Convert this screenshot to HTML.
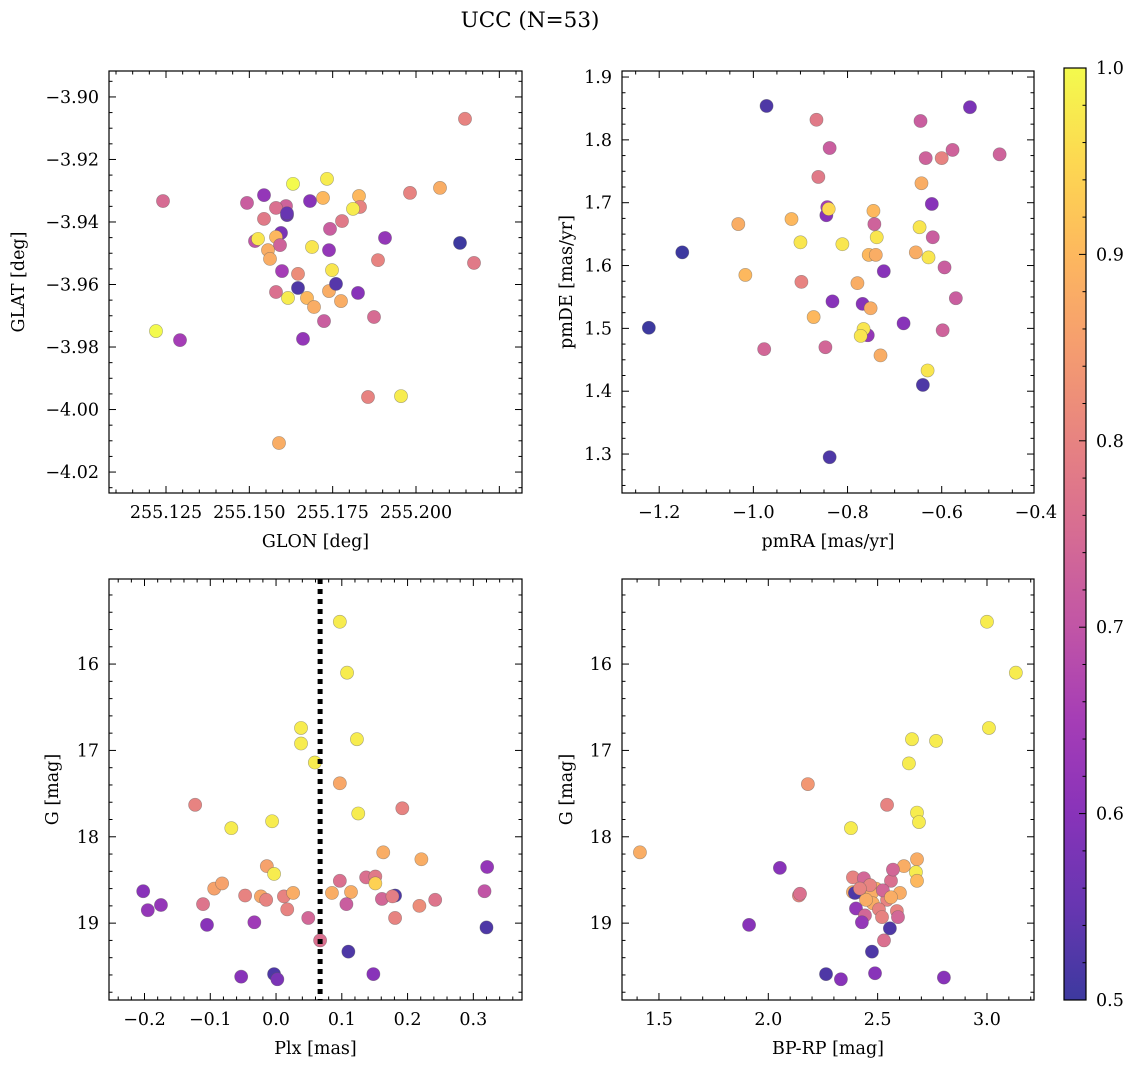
<!DOCTYPE html>
<html><head><meta charset="utf-8"><style>
html,body{margin:0;padding:0;background:#fff;}
svg{display:block;font-family:"DejaVu Serif","Liberation Serif",serif;}
</style></head><body>
<svg id="fig" width="1136" height="1068" viewBox="0 0 1136 1068" xmlns="http://www.w3.org/2000/svg">
<defs><linearGradient id="cbg" x1="0" y1="1" x2="0" y2="0"></linearGradient></defs>
<text x="530" y="27" font-size="21.5" text-anchor="middle">UCC (N=53)</text>
</svg>
<script>
// ---------- data ----------
const p1Glon=[255.2147,255.1241,255.2072,255.1982,255.1631,255.1733,255.1544,255.1493,255.1829,255.1832,255.1610,255.1613,255.1682,255.1721,255.1811,255.1544,255.1580,255.1778,255.1742,255.1907,255.2132,255.1595,255.1580,255.1517,255.1526,255.1592,255.1688,255.1739,255.1556,255.1562,255.1886,255.2174,255.1598,255.1748,255.1646,255.1646,255.1580,255.1739,255.1673,255.1616,255.1760,255.1775,255.1826,255.1694,255.1724,255.1661,255.1874,255.1220,255.1292,255.1856,255.1955,255.1589,255.1613];
const p1Glat=[-3.9070,-3.9333,-3.9291,-3.9307,-3.9278,-3.9262,-3.9314,-3.9339,-3.9317,-3.9352,-3.9349,-3.9378,-3.9333,-3.9323,-3.9358,-3.9390,-3.9355,-3.9397,-3.9422,-3.9451,-3.9467,-3.9435,-3.9448,-3.9461,-3.9454,-3.9474,-3.9480,-3.9490,-3.9490,-3.9518,-3.9522,-3.9531,-3.9557,-3.9554,-3.9566,-3.9611,-3.9624,-3.9621,-3.9643,-3.9643,-3.9598,-3.9653,-3.9627,-3.9672,-3.9717,-3.9774,-3.9704,-3.9749,-3.9778,-3.9960,-3.9957,-4.0107,-3.9372];
const p1Prob=[0.80,0.75,0.88,0.80,1.00,0.98,0.62,0.72,0.90,0.80,0.73,0.55,0.60,0.90,0.98,0.78,0.76,0.78,0.72,0.62,0.50,0.58,0.90,0.70,0.97,0.73,0.97,0.62,0.88,0.88,0.80,0.78,0.65,0.97,0.82,0.52,0.76,0.88,0.90,0.98,0.53,0.88,0.60,0.88,0.72,0.62,0.75,1.00,0.65,0.80,0.98,0.88,0.55];

const p2Pmra=[-0.972,-0.540,-0.866,-0.645,-0.577,-0.477,-0.838,-0.634,-0.600,-0.862,-0.643,-1.032,-0.919,-0.843,-0.845,-0.840,-0.745,-0.621,-0.743,-0.738,-0.900,-0.647,-0.619,-1.151,-0.811,-0.755,-0.655,-0.628,-0.740,-0.594,-1.017,-0.723,-0.898,-0.779,-0.832,-0.570,-0.768,-0.751,-1.222,-0.872,-0.757,-0.766,-0.772,-0.598,-0.977,-0.847,-0.730,-0.630,-0.640,-0.838,-0.681];
const p2Pmde=[1.854,1.852,1.832,1.830,1.784,1.777,1.787,1.771,1.771,1.741,1.731,1.666,1.674,1.693,1.680,1.690,1.687,1.698,1.666,1.645,1.637,1.661,1.645,1.621,1.634,1.617,1.621,1.613,1.617,1.597,1.585,1.591,1.574,1.572,1.543,1.548,1.539,1.532,1.501,1.518,1.489,1.499,1.488,1.497,1.467,1.470,1.457,1.433,1.410,1.295,1.508];
const p2Prob=[0.52,0.58,0.78,0.72,0.73,0.73,0.72,0.73,0.80,0.78,0.88,0.88,0.90,0.65,0.60,0.95,0.90,0.60,0.73,0.97,0.97,0.97,0.72,0.50,0.97,0.90,0.88,0.97,0.88,0.72,0.90,0.60,0.80,0.88,0.60,0.72,0.60,0.88,0.50,0.90,0.62,0.97,0.97,0.73,0.74,0.74,0.88,0.97,0.52,0.52,0.60];

const p3Plx=[0.097,0.108,0.038,0.038,0.123,0.059,0.097,-0.123,0.192,-0.068,-0.006,0.125,0.163,0.221,-0.014,-0.003,0.321,-0.202,-0.195,-0.175,-0.111,-0.094,-0.082,-0.047,-0.023,-0.015,0.012,0.026,0.017,0.049,-0.105,-0.033,0.085,0.097,0.114,0.107,0.137,0.151,0.151,0.181,0.161,0.177,0.181,0.218,0.242,0.317,0.320,0.067,0.110,-0.053,-0.003,0.002,0.148];
const p3G=[15.51,16.10,16.74,16.92,16.87,17.14,17.38,17.63,17.67,17.90,17.82,17.73,18.18,18.26,18.34,18.43,18.35,18.63,18.85,18.79,18.78,18.60,18.54,18.68,18.69,18.73,18.69,18.65,18.84,18.94,19.02,18.99,18.65,18.51,18.64,18.78,18.47,18.46,18.54,18.68,18.72,18.69,18.94,18.80,18.73,18.63,19.05,19.20,19.33,19.62,19.59,19.65,19.59];
const p3Prob=[0.98,0.98,0.98,0.98,0.98,0.98,0.87,0.80,0.80,0.98,0.98,0.98,0.88,0.88,0.86,0.98,0.62,0.60,0.62,0.62,0.77,0.86,0.86,0.80,0.87,0.80,0.80,0.88,0.80,0.74,0.60,0.64,0.88,0.76,0.88,0.72,0.76,0.78,0.94,0.52,0.74,0.79,0.80,0.82,0.77,0.70,0.52,0.76,0.52,0.60,0.52,0.58,0.60];
const vlinePlx=[0.067];

const p4Bprp=[3.000,3.132,3.009,2.767,2.657,2.643,2.181,2.543,2.680,2.689,2.378,2.680,2.675,2.680,2.620,1.413,2.053,2.387,2.437,2.561,2.492,2.387,2.419,2.474,2.602,2.543,2.478,2.506,2.401,2.588,2.442,2.520,2.593,2.428,2.556,2.529,2.474,1.912,2.264,2.332,2.488,2.803,2.140,2.396,2.465,2.447,2.524,2.561,2.419,2.570,2.145];
const p4G=[15.51,16.10,16.74,16.89,16.87,17.15,17.39,17.63,17.72,17.83,17.90,18.26,18.41,18.51,18.34,18.18,18.36,18.47,18.48,18.51,18.60,18.64,18.64,18.65,18.65,18.73,18.77,18.84,18.83,18.86,18.91,18.93,18.93,18.99,19.06,19.20,19.33,19.02,19.59,19.65,19.58,19.63,18.68,18.65,18.56,18.73,18.62,18.70,18.60,18.38,18.66];
const p4Prob=[0.98,0.98,0.98,0.98,0.98,0.98,0.84,0.80,0.98,0.98,0.98,0.88,0.98,0.90,0.88,0.88,0.60,0.80,0.74,0.76,0.88,0.88,0.96,0.88,0.88,0.80,0.88,0.80,0.62,0.80,0.74,0.80,0.74,0.62,0.52,0.76,0.52,0.60,0.52,0.60,0.60,0.60,0.80,0.52,0.80,0.88,0.74,0.88,0.80,0.74,0.76];

const cbTicks=[0.5,0.6,0.7,0.8,0.9,1.0];

// ---------- helpers ----------
const NS="http://www.w3.org/2000/svg";
const svg=document.getElementById('fig');
function mk(tag,attrs,parent){const e=document.createElementNS(NS,tag);for(const k in attrs)e.setAttribute(k,attrs[k]);(parent||svg).appendChild(e);return e;}
const stops=[[13,8,135],[65,4,157],[106,0,168],[143,13,164],[177,42,144],[204,71,120],[225,100,98],[242,132,75],[252,166,54],[252,206,37],[240,249,33]];
function cmap(p){let t=(p-0.5)/0.5;t=Math.max(0,Math.min(1,t));const f=t*10,i=Math.min(9,Math.floor(f)),r=f-i;
 const c=stops[i].map((v,k)=>v+(stops[i+1][k]-v)*r).map(v=>Math.round(0.8*v+0.2*255));return `rgb(${c[0]},${c[1]},${c[2]})`;}
function fmt(v,d){const s=v.toFixed(d);return s.replace('-','\u2212');}
const FS=17.5;

function panel(o){
 const g=mk('g',{});
 
 
 const X=v=>o.L+(v-o.x0)/(o.x1-o.x0)*(o.R-o.L);
 const Y=v=>o.B-(v-o.y0)/(o.y1-o.y0)*(o.B-o.T);
 const pg=mk('g',{},g);
 
 
 o.xs.forEach((xv,i)=>{const c=mk('circle',{cx:X(xv),cy:Y(o.ys[i]),r:6.6,fill:cmap(o.pr[i]),stroke:'rgba(90,90,90,0.5)','stroke-width':0.6},pg);
  
  });
 if(o.vline){o.vline.forEach(v=>{const l=mk('line',{x1:X(v),x2:X(v),y1:o.T,y2:o.B,stroke:'#000','stroke-width':5,'stroke-dasharray':'5 5'},g);
  
  });}
 const f=mk('rect',{x:o.L,y:o.T,width:o.R-o.L,height:o.B-o.T,fill:'none',stroke:'#000','stroke-width':1.2},g);
 
 
 const tg=mk('g',{stroke:'#000','stroke-width':1},g);
 
 
 const eps=1e-9;
 const xa=Math.min(o.x0,o.x1),xb=Math.max(o.x0,o.x1),ya=Math.min(o.y0,o.y1),yb=Math.max(o.y0,o.y1);
 for(let k=Math.ceil(xa/o.xm-eps);k*o.xm<=xb+eps;k++){const v=k*o.xm;const x=X(v);const maj=Math.abs(v/o.xM-Math.round(v/o.xM))<1e-6;const len=maj?7:3.5;
  mk('line',{x1:x,x2:x,y1:o.B,y2:o.B-len},tg);mk('line',{x1:x,x2:x,y1:o.T,y2:o.T+len},tg);}
 for(let k=Math.ceil(ya/o.ym-eps);k*o.ym<=yb+eps;k++){const v=k*o.ym;const y=Y(v);const maj=Math.abs(v/o.yM-Math.round(v/o.yM))<1e-6;const len=maj?7:3.5;
  mk('line',{y1:y,y2:y,x1:o.L,x2:o.L+len},tg);mk('line',{y1:y,y2:y,x1:o.R,x2:o.R-len},tg);}
 o.xt.forEach(v=>{const t=mk('text',{x:X(v),y:o.B+25,'font-size':FS,'text-anchor':'middle'},g);t.textContent=fmt(v,o.xd);
  
  });
 o.yt.forEach(v=>{const t=mk('text',{x:o.L-10,y:Y(v)+6,'font-size':FS,'text-anchor':'end'},g);t.textContent=fmt(v,o.yd);
  
  });
 const xl=mk('text',{x:(o.L+o.R)/2,y:o.B+54,'font-size':FS,'text-anchor':'middle'},g);xl.textContent=o.xlab;
 
 
 const yl=mk('text',{x:0,y:0,'font-size':FS,'text-anchor':'middle',transform:`translate(${o.ylx},${(o.T+o.B)/2}) rotate(-90)`},g);yl.textContent=o.ylab;
 
 
}
panel({name:'panel-glon-glat',L:109,R:522,T:71,B:493,x0:255.1079,x1:255.2318,y0:-4.0267,y1:-3.8917,xm:0.005,xM:0.025,ym:0.005,yM:0.02,
 xt:[255.125,255.150,255.175,255.200],xd:3,yt:[-4.02,-4.00,-3.98,-3.96,-3.94,-3.92,-3.90],yd:2,xlab:'GLON [deg]',ylab:'GLAT [deg]',ylx:24,xs:p1Glon,ys:p1Glat,pr:p1Prob});
panel({name:'panel-pm',L:622,R:1034,T:71,B:493,x0:-1.279,x1:-0.404,y0:1.238,y1:1.9096,xm:0.05,xM:0.2,ym:0.025,yM:0.1,
 xt:[-1.2,-1.0,-0.8,-0.6,-0.4],xd:1,yt:[1.3,1.4,1.5,1.6,1.7,1.8,1.9],yd:1,xlab:'pmRA [mas/yr]',ylab:'pmDE [mas/yr]',ylx:572,xs:p2Pmra,ys:p2Pmde,pr:p2Prob});
panel({name:'panel-plx-g',L:109,R:522,T:579,B:1000,x0:-0.254,x1:0.374,y0:19.89,y1:15.015,xm:0.02,xM:0.1,ym:0.2,yM:1,
 xt:[-0.2,-0.1,0.0,0.1,0.2,0.3],xd:1,yt:[16,17,18,19],yd:0,xlab:'Plx [mas]',ylab:'G [mag]',ylx:58,xs:p3Plx,ys:p3G,pr:p3Prob,vline:vlinePlx});
panel({name:'panel-cmd',L:622,R:1034,T:579,B:1000,x0:1.331,x1:3.215,y0:19.89,y1:15.015,xm:0.1,xM:0.5,ym:0.2,yM:1,
 xt:[1.5,2.0,2.5,3.0],xd:1,yt:[16,17,18,19],yd:0,xlab:'BP-RP [mag]',ylab:'G [mag]',ylx:572,xs:p4Bprp,ys:p4G,pr:p4Prob});

// colorbar
(function(){
 const L=1064,R=1086,T=68,B=1000;
 const grad=document.getElementById('cbg');
 for(let i=0;i<=20;i++){const p=0.5+i*0.025;mk('stop',{offset:(i/20),'stop-color':cmap(p)},grad);}
 const g=mk('g',{});
 
 
 const r=mk('rect',{x:L,y:T,width:R-L,height:B-T,fill:'url(#cbg)',stroke:'#000','stroke-width':1.2},g);
 
 
 const Y=v=>B-(v-0.5)/0.5*(B-T);
 for(let k=25;k<=50;k++){const v=k*0.02;const y=Y(v);const maj=(k%5===0);
  mk('line',{x1:R,x2:R-(maj?7:3.5),y1:y,y2:y,stroke:'#000'},g);}
 cbTicks.forEach(v=>{const t=mk('text',{x:R+10,y:Y(v)+6,'font-size':FS},g);t.textContent=v.toFixed(1);
  
  });
})();
</script>
</body></html>
